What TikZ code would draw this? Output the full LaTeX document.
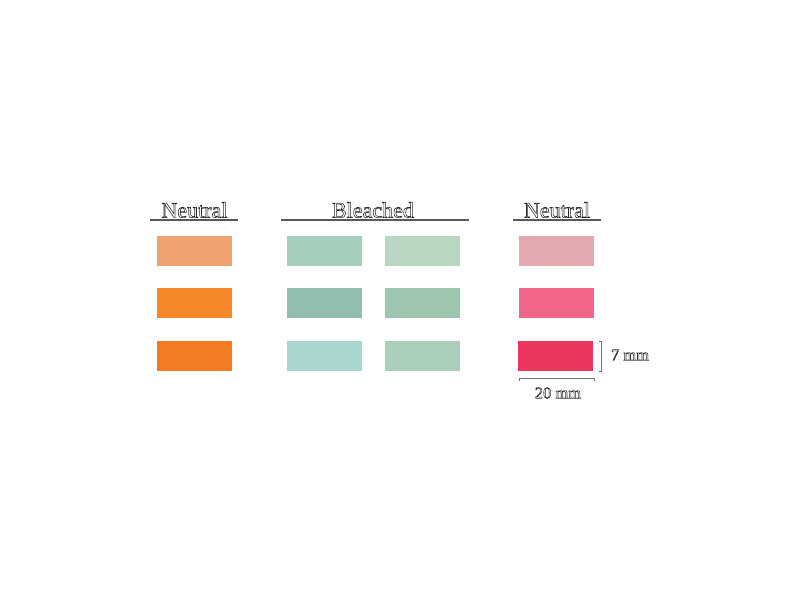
\documentclass[tikz,border=0pt]{standalone}
\usepackage{fontspec}
\setmainfont{Liberation Serif}
\usepackage{tikz}
\usetikzlibrary{positioning}
\definecolor{oraA}{RGB}{240,163,112}
\definecolor{oraB}{RGB}{246,136,44}
\definecolor{oraC}{RGB}{242,124,36}
\definecolor{bleA}{RGB}{165,207,188}
\definecolor{bleB}{RGB}{146,190,176}
\definecolor{bleC}{RGB}{170,214,208}
\definecolor{blfA}{RGB}{184,214,192}
\definecolor{blfB}{RGB}{158,198,175}
\definecolor{blfC}{RGB}{170,208,187}
\definecolor{pinA}{RGB}{226,170,176}
\definecolor{pinB}{RGB}{241,102,136}
\definecolor{pinC}{RGB}{236,54,94}
\newcommand{\hollowtext}[1]{\special{pdf:literal direct 1 Tr 0.55 w}#1\special{pdf:literal direct 0 Tr}}

\begin{document}
\begin{tikzpicture}[x=1pt,y=-1pt]
                    \tikzstyle{every node}+=[inner sep=0pt]
                    \tikzstyle{swatch}=[rectangle, minimum width=75pt, minimum height=30pt]
                    \tikzstyle{head}=[font=\fontsize{22}{22}\selectfont, text=black!85]
                    \tikzstyle{rule}=[black!65, line width=1.4pt]
                    \tikzstyle{scalebar}=[black!55, line width=0.7pt]
                    \tikzstyle{scalelabel}=[font=\fontsize{16.5}{16.5}\selectfont, text=black!80]
                    \useasboundingbox (0,0) rectangle (800,600);
                    % orange column
                    \node [swatch, fill=oraA] (o1) at (194.5,251) {};
                    \node [swatch, fill=oraB] (o2) at (194.5,303) {};
                    \node [swatch, fill=oraC] (o3) at (194.5,355.5) {};
                    % bleached columns
                    \node [swatch, fill=bleA] (b1) at (324.5,251) {};
                    \node [swatch, fill=bleB] (b2) at (324.5,303) {};
                    \node [swatch, fill=bleC] (b3) at (324.5,355.5) {};
                    \node [swatch, fill=blfA] (c1) at (422,251) {};
                    \node [swatch, fill=blfB] (c2) at (422,303) {};
                    \node [swatch, fill=blfC] (c3) at (422,355.5) {};
                    % pink column
                    \node [swatch, fill=pinA] (p1) at (556,251) {};
                    \node [swatch, fill=pinB] (p2) at (556,303) {};
                    \node [swatch, fill=pinC] (p3) at (555,355.5) {};
                    % headings
                    \node [head] (hl) at (194.5,210) {\hollowtext{Neutral}};
                    \node [head] (hm) at (373,210) {\hollowtext{Bleached}};
                    \node [head] (hr) at (557,210) {\hollowtext{Neutral}};
                    \draw [rule] (150,220) -- (238,220);
                    \draw [rule] (281,220) -- (469,220);
                    \draw [rule] (513,220) -- (601,220);
                    % scale bars
                    \coordinate (wl) at (519,378);
                    \coordinate (wr) at (594,378);
                    \coordinate (ht) at (601,341);
                    \coordinate (hb) at (601,371);
                    \draw [scalebar] ([yshift=-3pt]wl) -- (wl) -- (wr) -- ([yshift=-3pt]wr);
                    \draw [scalebar] ([xshift=-2pt]ht) -- (ht) -- (hb) -- ([xshift=-2pt]hb);
                    \node [scalelabel] (wlab) at (558,393) {\hollowtext{20 mm}};
                    \node [scalelabel] (hlab) at (630,355) {\hollowtext{7 mm}};
\end{tikzpicture}
\end{document}
